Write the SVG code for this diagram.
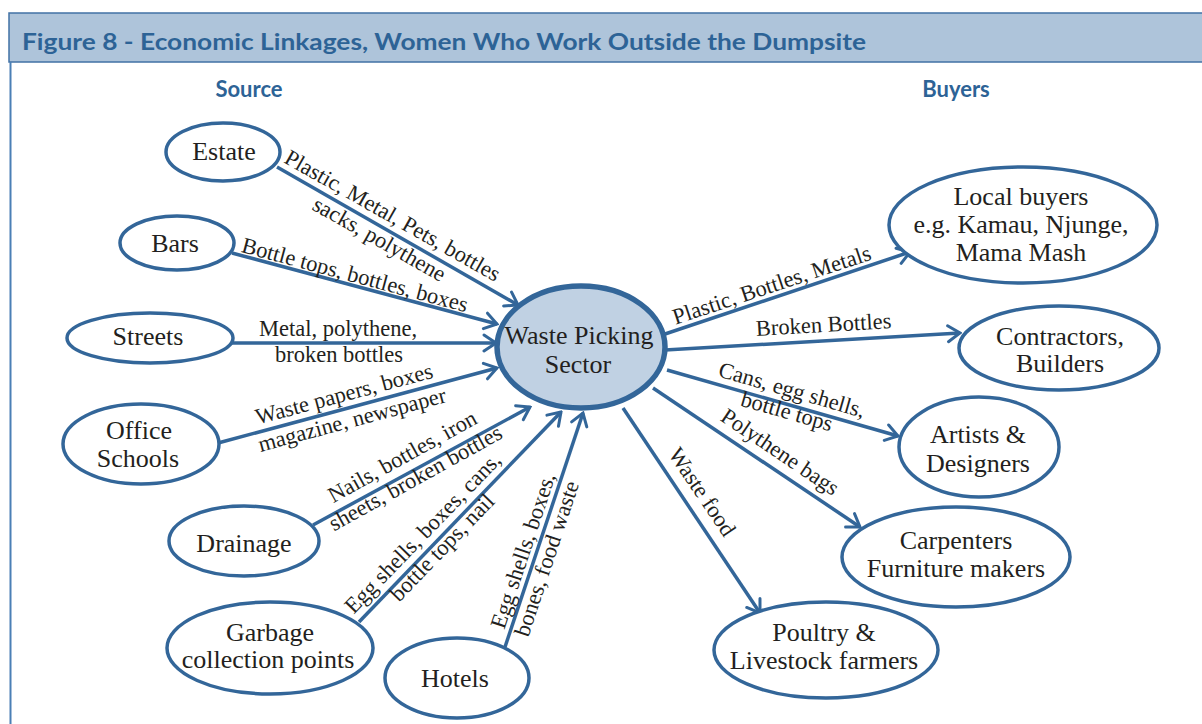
<svg xmlns="http://www.w3.org/2000/svg" width="1202" height="724" viewBox="0 0 1202 724">
<defs>
<marker id="arr" viewBox="0 0 16 20" refX="14" refY="10" markerWidth="16" markerHeight="20" markerUnits="userSpaceOnUse" orient="auto">
<path d="M2,2 L14,10 L2,18" fill="none" stroke="#336699" stroke-width="3" stroke-linecap="round" stroke-linejoin="miter"/>
</marker>
</defs>
<style>
.node{fill:#ffffff;stroke:#336699;stroke-width:3.5}
.hub{fill:#c0d1e3;stroke:#336699;stroke-width:5.5}
.nt{font-family:"Liberation Serif","Times New Roman",serif;font-size:26px;fill:#231f20;text-anchor:middle}
.lt{font-family:"Liberation Serif","Times New Roman",serif;font-size:22.5px;fill:#231f20;text-anchor:middle}
.edge{stroke:#336699;stroke-width:3.5;fill:none;marker-end:url(#arr)}
.hd{font-family:Lato,"Open Sans",sans-serif;font-weight:bold;fill:#2d6396}
</style>
<rect width="1202" height="724" fill="#ffffff"/>
<g id="frame">
<rect x="9" y="13" width="1200" height="49" fill="#aec4da" stroke="#4272a5" stroke-width="1.5"/>
<line x1="10.5" y1="62" x2="10.5" y2="724" stroke="#4a7fb5" stroke-width="2"/>
<text class="hd" x="22" y="50" font-size="23" textLength="844" lengthAdjust="spacingAndGlyphs">Figure 8 - Economic Linkages, Women Who Work Outside the Dumpsite</text>
<text class="hd" x="249" y="97" font-size="22" text-anchor="middle">Source</text>
<text class="hd" x="956" y="97" font-size="22" text-anchor="middle">Buyers</text>
</g>
<g id="connectors">
<line class="edge" x1="277" y1="167" x2="518" y2="305"/>
<line class="edge" x1="232" y1="253" x2="497" y2="324"/>
<line class="edge" x1="232" y1="343" x2="496" y2="343"/>
<line class="edge" x1="218" y1="443" x2="497" y2="368"/>
<line class="edge" x1="313" y1="525" x2="530" y2="407"/>
<line class="edge" x1="359" y1="622" x2="561" y2="412"/>
<line class="edge" x1="505" y1="647" x2="583" y2="413"/>
<line class="edge" x1="665" y1="334" x2="910" y2="252"/>
<line class="edge" x1="665" y1="350" x2="960" y2="333"/>
<line class="edge" x1="667" y1="370" x2="898" y2="436"/>
<line class="edge" x1="653" y1="388" x2="860" y2="527"/>
<line class="edge" x1="623" y1="408" x2="760" y2="613"/>
<text class="lt" transform="translate(389,222) rotate(29.5)"><tspan x="0" y="0">Plastic, Metal, Pets, bottles</tspan><tspan x="0" y="27">sacks, polythene</tspan></text>
<text class="lt" transform="translate(353,282) rotate(15)">Bottle tops, bottles, boxes</text>
<text class="lt" x="338" y="336">Metal, polythene,</text>
<text class="lt" x="339" y="362">broken bottles</text>
<text class="lt" transform="translate(346,401) rotate(-15)"><tspan x="0" y="0">Waste papers, boxes</tspan><tspan x="1" y="27">magazine, newspaper</tspan></text>
<text class="lt" transform="translate(406,463) rotate(-29)"><tspan x="0" y="0">Nails, bottles, iron</tspan><tspan x="1" y="25">sheets, broken bottles</tspan></text>
<text class="lt" transform="translate(428,538) rotate(-46)"><tspan x="0" y="0">Egg shells, boxes, cans,</tspan><tspan x="3" y="24">bottle tops, nail</tspan></text>
<text class="lt" transform="translate(530,553) rotate(-71.6)"><tspan x="0" y="0">Egg shells, boxes,</tspan><tspan x="0" y="25">bones, food waste</tspan></text>
<text class="lt" transform="translate(774,292) rotate(-18.4)">Plastic, Bottles, Metals</text>
<text class="lt" transform="translate(824,332) rotate(-3.3)">Broken Bottles</text>
<text class="lt" transform="translate(790,397) rotate(16)"><tspan x="0" y="0">Cans, egg shells,</tspan><tspan x="1" y="22">bottle tops</tspan></text>
<text class="lt" transform="translate(776,458) rotate(34)">Polythene bags</text>
<text class="lt" transform="translate(696,496) rotate(56)">Waste food</text>
</g>
<g id="hub"><ellipse class="hub" cx="581" cy="347" rx="84" ry="61"/><text class="nt" x="579" y="344" font-size="25">Waste Picking</text><text class="nt" x="578" y="373" font-size="25">Sector</text></g>
<g id="estate"><ellipse class="node" cx="223" cy="152" rx="57" ry="29"/><text class="nt" x="224" y="160">Estate</text></g>
<g id="bars"><ellipse class="node" cx="177" cy="243" rx="57" ry="27"/><text class="nt" x="175" y="252">Bars</text></g>
<g id="streets"><ellipse class="node" cx="150" cy="338" rx="83" ry="25"/><text class="nt" x="148" y="345">Streets</text></g>
<g id="office"><ellipse class="node" cx="141" cy="444" rx="78" ry="40"/><text class="nt" x="139" y="439">Office</text><text class="nt" x="138" y="467">Schools</text></g>
<g id="drainage"><ellipse class="node" cx="244" cy="541" rx="75" ry="35"/><text class="nt" x="244" y="552">Drainage</text></g>
<g id="garbage"><ellipse class="node" cx="270" cy="648" rx="103" ry="46"/><text class="nt" x="270" y="641">Garbage</text><text class="nt" x="268" y="668">collection points</text></g>
<g id="hotels"><ellipse class="node" cx="457" cy="678" rx="72" ry="40"/><text class="nt" x="455" y="687">Hotels</text></g>
<g id="local"><ellipse class="node" cx="1023" cy="225" rx="134" ry="58"/><text class="nt" x="1021" y="205">Local buyers</text><text class="nt" x="1021" y="233">e.g. Kamau, Njunge,</text><text class="nt" x="1021" y="261">Mama Mash</text></g>
<g id="contractors"><ellipse class="node" cx="1059" cy="348" rx="100" ry="42"/><text class="nt" x="1060" y="345">Contractors,</text><text class="nt" x="1060" y="372">Builders</text></g>
<g id="artists"><ellipse class="node" cx="979" cy="447" rx="80" ry="50"/><text class="nt" x="978" y="443">Artists &amp;</text><text class="nt" x="978" y="472">Designers</text></g>
<g id="carpenters"><ellipse class="node" cx="956" cy="557" rx="114" ry="50"/><text class="nt" x="956" y="549">Carpenters</text><text class="nt" x="956" y="577">Furniture makers</text></g>
<g id="poultry"><ellipse class="node" cx="826" cy="650" rx="112" ry="48"/><text class="nt" x="824" y="641">Poultry &amp;</text><text class="nt" x="824" y="669">Livestock farmers</text></g>
</svg>
